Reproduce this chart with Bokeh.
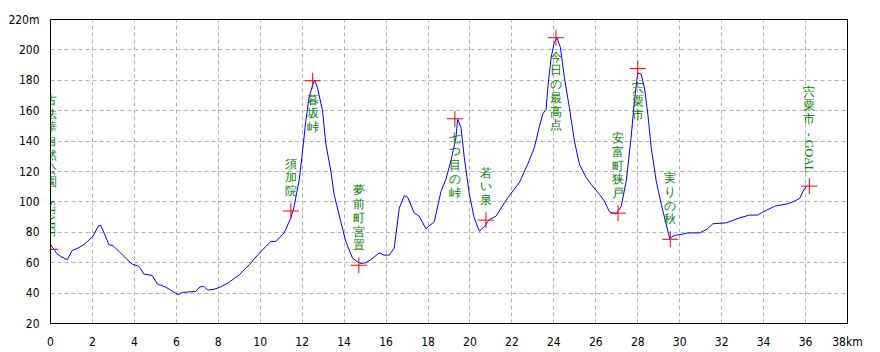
import math
from bokeh.plotting import figure
from bokeh.models import Range1d, FixedTicker, ColumnDataSource, LabelSet
from bokeh.embed import file_html
from bokeh.resources import INLINE

# ---- elevation profile (km, m) ----
dist_km = [0.0, 0.1, 0.3, 0.5, 0.8, 1.03, 1.3, 1.6, 2.0, 2.3, 2.4, 2.6, 2.78, 3.0, 3.3,
           3.66, 3.9, 4.14, 4.3, 4.45, 4.85, 5.09, 5.49, 5.89, 6.1, 6.3, 6.9, 7.13, 7.3,
           7.5, 7.8, 8.1, 8.5, 9.0, 9.5, 10.0, 10.3, 10.5, 10.74, 11.14, 11.46, 11.6,
           11.85, 12.0, 12.17, 12.33, 12.5, 12.6, 12.73, 12.97, 13.13, 13.37, 13.52,
           13.84, 14.08, 14.4, 14.64, 14.8, 15.04, 15.27, 15.67, 15.9, 16.15, 16.39,
           16.63, 16.86, 17.03, 17.34, 17.58, 17.9, 18.3, 18.62, 18.85, 19.09, 19.33,
           19.41, 19.57, 19.73, 19.97, 20.2, 20.45, 20.7, 20.92, 21.24, 21.8, 22.35,
           22.75, 23.07, 23.3, 23.47, 23.63, 23.71, 23.87, 24.02, 24.15, 24.31, 24.5,
           24.74, 24.98, 25.22, 25.54, 25.78, 26.17, 26.41, 26.65, 26.97, 27.21, 27.45,
           27.68, 27.84, 28.0, 28.16, 28.32, 28.48, 28.64, 28.88, 29.12, 29.36, 29.52,
           29.75, 30.07, 30.39, 30.94, 31.3, 31.58, 32.22, 32.85, 33.33, 33.73, 33.89,
           34.53, 35.16, 35.48, 35.72, 35.88, 36.04]
elev_m = [72, 70, 66, 64, 62, 68, 69.5, 72, 77, 84.5, 84.5, 78, 72, 71, 67,
          62, 59, 58, 56, 52.5, 51.6, 46, 44, 40.5, 39, 40.5, 41, 44, 44.5,
          42, 42.5, 44, 47, 52, 59, 67, 71, 74, 74, 79.6, 89.5, 96,
          113.7, 131, 153, 168.7, 177, 180, 175, 160, 138, 120, 105,
          87, 74, 63, 60.5, 59.5, 60, 62, 66.4, 65, 65, 69.7,
          96, 104, 103, 92.8, 90.6, 82.3, 87, 107, 114.8, 127, 142,
          154.4, 149, 129, 105, 89.5, 80.7, 84, 88.4, 90.6, 102.7, 112.6,
          124.7, 135.7, 149, 157.8, 161, 175, 195, 205, 208, 201.7, 182,
          162, 140, 124.7, 116, 111.5, 105, 100.5, 93.5, 92, 97, 113.7,
          142, 166.5, 185, 184, 175, 157.8, 135.7, 113.7, 98.4, 85, 76,
          78, 78.6, 79.6, 79.6, 82, 85.6, 86.2, 89.5, 91.3, 91.3, 92.8,
          97.2, 98.8, 100.5, 102.3, 107, 110.4]

# ---- waypoints ----
wp_names = ["古法華自然公園", "須加院", "暮坂峠", "夢前町宮置", "七つ目の峠", "若い泉",
            "今日の最高点", "安富町狭戸", "宍粟市", "実りの秋", "宍粟市"]
wp_suffix = ["- START", "", "", "", "", "", "", "", "", "", "- GOAL"]
wp_km = [0.0, 11.46, 12.5, 14.7, 19.28, 20.76, 24.1, 27.06, 28.0, 29.55, 36.18]
wp_elev = [68.8, 94, 179.7, 58.3, 154.7, 88, 208, 92.6, 187.7, 75.4, 110.4]
wp_label_below = [False, False, True, False, True, False, True, False, True, False, False]

x_ticks = list(range(0, 39, 2))
y_ticks = list(range(20, 221, 20))
x_unit_label = {38: "38km"}
y_unit_label = {220: "220m"}

p = figure(width=880, height=352, x_range=Range1d(0, 38), y_range=Range1d(20, 220),
           output_backend="svg", toolbar_location=None,
           min_border_left=50, min_border_right=33, min_border_top=19, min_border_bottom=29)
p.background_fill_color = "white"
p.border_fill_color = "white"
p.outline_line_color = "black"
p.outline_line_width = 1

tick_font = "Liberation Sans Narrow, DejaVu Sans Condensed, Liberation Sans"
for ax, ticks, ov in ((p.xaxis[0], x_ticks, x_unit_label), (p.yaxis[0], y_ticks, y_unit_label)):
    ax.ticker = FixedTicker(ticks=ticks)
    ax.major_label_overrides = ov
    ax.axis_line_color = "black"
    ax.major_tick_line_color = None
    ax.minor_tick_line_color = None
    ax.major_label_text_font = tick_font
    ax.major_label_text_font_size = "12px"
    ax.major_label_text_color = "black"
    ax.major_label_standoff = 5

p.xgrid.ticker = FixedTicker(ticks=x_ticks)
p.ygrid.ticker = FixedTicker(ticks=y_ticks)
p.grid.grid_line_color = "#b4b4b4"
p.grid.grid_line_dash = "4 3"
p.grid.grid_line_width = 1

p.line(dist_km, elev_m, line_color="#0000ff", line_width=1)
p.scatter(wp_km, wp_elev, marker="cross", size=16, line_color="#ff0000", line_width=1)

cjk = "Noto Sans CJK JP"
green = "#008000"


def stacked(s):
    return "\n".join(list(s))


above = [i for i in range(len(wp_names)) if not wp_label_below[i] and not wp_suffix[i]]
below = [i for i in range(len(wp_names)) if wp_label_below[i]]
suff = [i for i in range(len(wp_names)) if wp_suffix[i]]


def src(idx, texts):
    return ColumnDataSource(dict(x=[wp_km[i] for i in idx], y=[wp_elev[i] for i in idx],
                                 t=[texts[i] for i in idx]))


stacked_names = [stacked(n) for n in wp_names]
common = dict(x="x", y="y", text="t", text_font=cjk, text_font_size="12px",
              text_color=green, text_align="center", text_line_height=0.98)
p.add_layout(LabelSet(source=src(above, stacked_names), text_baseline="bottom", y_offset=13, **common))
p.add_layout(LabelSet(source=src(below, stacked_names), text_baseline="top", y_offset=-12, **common))
p.add_layout(LabelSet(source=src(suff, stacked_names), text_baseline="bottom", y_offset=60, **common))
p.add_layout(LabelSet(source=src(suff, wp_suffix), x="x", y="y", text="t", text_font=cjk,
                      text_font_size="12px", text_color=green, text_align="right",
                      text_baseline="middle", angle=-math.pi / 2, y_offset=13))

open("out.html", "w").write(file_html(p, INLINE))
